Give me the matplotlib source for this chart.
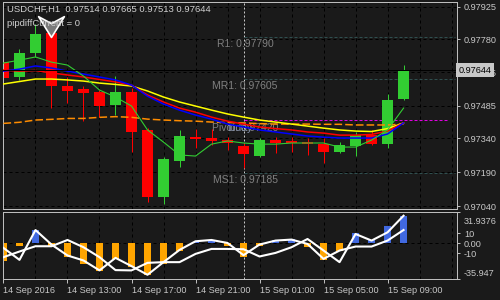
import matplotlib
matplotlib.use('Agg')
import matplotlib.pyplot as plt
from matplotlib.path import Path
from matplotlib.transforms import ScaledTranslation, blended_transform_factory

plt.rcParams['font.family'] = ['Liberation Sans', 'DejaVu Sans']

# ---------------- data ----------------
bars = list(range(26))
opens = [0.97681, 0.97614, 0.97718, 0.97807, 0.97573, 0.97558, 0.97548, 0.97489, 0.97548, 0.97378,
         0.97081, 0.97240, 0.97348, 0.97343, 0.97333, 0.97308, 0.97263, 0.97333, 0.97330, 0.97326,
         0.97315, 0.97281, 0.97308, 0.97355, 0.97314, 0.97514]
highs = [0.97702, 0.97736, 0.97848, 0.97813, 0.97613, 0.97573, 0.97555, 0.97617, 0.97564, 0.97386,
         0.97259, 0.97378, 0.97381, 0.97381, 0.97347, 0.97320, 0.97342, 0.97347, 0.97348, 0.97341,
         0.97341, 0.97326, 0.97370, 0.97378, 0.97537, 0.97665]
lows = [0.97600, 0.97600, 0.97703, 0.97475, 0.97497, 0.97419, 0.97437, 0.97444, 0.97281, 0.97059,
        0.97049, 0.97215, 0.97296, 0.97311, 0.97289, 0.97208, 0.97258, 0.97277, 0.97281, 0.97267,
        0.97230, 0.97274, 0.97263, 0.97311, 0.97296, 0.97513]
closes = [0.97607, 0.97718, 0.97804, 0.97574, 0.97552, 0.97543, 0.97485, 0.97548, 0.97370, 0.97081,
          0.97249, 0.97351, 0.97338, 0.97329, 0.97319, 0.97270, 0.97333, 0.97319, 0.97320, 0.97314,
          0.97281, 0.97311, 0.97355, 0.97314, 0.97511, 0.97644]

ma_blue = [0.97639, 0.97648, 0.97662, 0.97653, 0.97639, 0.97626, 0.97613, 0.97600, 0.97577, 0.97528,
           0.97493, 0.97466, 0.97444, 0.97426, 0.97404, 0.97391, 0.97378, 0.97369, 0.97360, 0.97351,
           0.97346, 0.97342, 0.97342, 0.97342, 0.97360, 0.97409]
ma_red = [0.97644, 0.97639, 0.97642, 0.97631, 0.97622, 0.97613, 0.97602, 0.97591, 0.97577, 0.97533,
          0.97502, 0.97475, 0.97457, 0.97435, 0.97417, 0.97404, 0.97391, 0.97384, 0.97378, 0.97369,
          0.97364, 0.97355, 0.97355, 0.97358, 0.97373, 0.97409]
ma_yellow = [0.97582, 0.97593, 0.97604, 0.97604, 0.97600, 0.97595, 0.97586, 0.97580, 0.97573, 0.97551,
             0.97524, 0.97502, 0.97484, 0.97466, 0.97449, 0.97435, 0.97422, 0.97413, 0.97404, 0.97395,
             0.97386, 0.97378, 0.97373, 0.97371, 0.97384, 0.97409]
ma_orange = [0.97407, 0.97412, 0.97422, 0.97425, 0.97429, 0.97429, 0.97434, 0.97437, 0.97434, 0.97426,
             0.97422, 0.97419, 0.97417, 0.97413, 0.97411, 0.97409, 0.97406, 0.97404, 0.97404, 0.97404,
             0.97403, 0.97403, 0.97400, 0.97400, 0.97400, 0.97404]
ma_green = [0.97675, 0.97688, 0.97702, 0.97679, 0.97666, 0.97617, 0.97555, 0.97524, 0.97484, 0.97378,
            0.97324, 0.97267, 0.97262, 0.97315, 0.97329, 0.97320, 0.97315, 0.97315, 0.97320, 0.97320,
            0.97320, 0.97302, 0.97302, 0.97333, 0.97378, 0.97475]

level_names = ['R1: 0.97790', 'MR1: 0.97605', 'MS1: 0.97185']
level_values = [0.97790, 0.97605, 0.97185]
pivot_value = 0.97420
pivot_label = 'Pivot: 0.97420'
pivot_extra = 'today'
day_start_bar = 15
level_end_bar = 28.2

arrow_bar = [3]
arrow_price = [0.97790]

hist = [-18.3, -3, 13.7, -2.3, -14, -20.7, -28.3, -15.7, -24, -32.3, -20.7, -7.3, 1, 2.7, -2.3,
        -14, -2.3, 3.3, 4.3, -4, -17.3, -7.3, 10, 3.3, 17.7, 27.7]
line1 = [-4.7, -16.7, 13.3, -1.3, -12.3, -17.3, -27.3, -14.7, -23, -31.7, -19, -6.7, 2, 3.3, 0.3,
         -12, -1.3, 2.7, 3.7, -0.7, -15.7, -7.3, -3.3, -3.3, 2.7, 13.3]
line2 = [-14, -8.3, -3, -3, 3.3, -4, -14, -27, -27.3, -19.7, -19, -19, -10.7, -5.7, -5.7,
         -6, -13.3, -9.7, -4, 4.3, -7.3, -19, 9.3, 2.7, 11, 27.7]

price_ticks = [0.97925, 0.97780, 0.97635, 0.97485, 0.97340, 0.97190, 0.97040]
price_labels = ['0.97925', '0.97780', '0.97635', '0.97485', '0.97340', '0.97190', '0.97040']
ind_ticks = [31.9376, 10, 0, -10, -35.947]
ind_labels = ['31.9376', '10', '0.00', '-10', '-35.947']
time_ticks = [0, 4, 8, 12, 16, 20, 24]
time_labels = ['14 Sep 2016', '14 Sep 13:00', '14 Sep 17:00', '14 Sep 21:00',
               '15 Sep 01:00', '15 Sep 05:00', '15 Sep 09:00']
grid_bars = list(range(0, 29, 2))

title = 'USDCHF,H1  0.97514 0.97665 0.97513 0.97644'
subtitle = 'pipdiffCurrent = 0'

# ---------------- style ----------------
BG = '#1a1a1a'
FG = '#c8c8c8'
BORDER = '#bdbdbd'
UP = '#32cd32'
DOWN = '#ff0000'
px = 0.72  # one pixel in points at dpi 100

fig = plt.figure(figsize=(5, 3), dpi=100, facecolor=BG)
ax = fig.add_axes([3 / 500, 1 - 209 / 300, 454 / 500, 207 / 300])
ax2 = fig.add_axes([3 / 500, 1 - 279 / 300, 454 / 500, 67.5 / 300])

xlim = (-0.03, 28.34)
for a in (ax, ax2):
    a.set_facecolor(BG)
    a.set_xlim(*xlim)
    for s in a.spines.values():
        s.set_color(BORDER)
        s.set_linewidth(px)
    for g in grid_bars:
        a.axvline(g, color='black', lw=px, ls=(0, (3, 3)), zorder=0.5)
    a.axvline(day_start_bar, color='#c8c8c8', lw=px, ls=(0, (2, 2)), zorder=0.6)

ax.set_ylim(0.97027, 0.97946)
ax2.set_ylim(-35.947, 31.9376)

# horizontal grid
for p in price_ticks:
    ax.axhline(p, color='black', lw=px, ls=(0, (3, 3)), zorder=0.5)
ax2.axhline(0, color='black', lw=px, ls=(0, (3, 3)), zorder=0.5)

# pivot levels
ax.hlines(level_values, day_start_bar, level_end_bar, colors='#2f4f4f', lw=px,
          linestyles=(0, (3, 2)), zorder=0.7)
ax.hlines([pivot_value], day_start_bar, level_end_bar - 0.5, colors='#e000e0', lw=px,
          linestyles=(0, (3, 2)), zorder=0.7)
for name, val in zip(level_names, level_values):
    ax.annotate(name, (day_start_bar + 0.1, val), xytext=(0, -1.5), textcoords='offset points',
                ha='center', va='top', color='#808080', fontsize=7.5, zorder=1)
ax.annotate(pivot_label, (day_start_bar + 0.1, pivot_value), xytext=(0, -1.5),
            textcoords='offset points', ha='center', va='top', color='#808080',
            fontsize=7.5, zorder=1)
ax.annotate(pivot_extra, (day_start_bar - 0.97, pivot_value), xytext=(0, -1.5),
            textcoords='offset points', ha='left', va='top', color='#8894ad',
            fontsize=7.5, zorder=1.1)

# candles
cols = [UP if c >= o else DOWN for o, c in zip(opens, closes)]
ax.vlines(bars, lows, highs, colors=cols, lw=px, zorder=2)
bottoms = [min(o, c) for o, c in zip(opens, closes)]
heights = [max(abs(c - o), 0.00003) for o, c in zip(opens, closes)]
ax.bar(bars, heights, bottom=bottoms, width=0.69, color=cols, linewidth=0, zorder=2.1)

# moving averages
ax.plot(bars, ma_orange, color='#ff8c00', lw=1.1, ls=(0, (5, 2)), zorder=3)
ax.plot(bars, ma_yellow, color='#ffff00', lw=1.1, zorder=3.1)
ax.plot(bars, ma_red, color='#ff0000', lw=1.1, zorder=3.2)
ax.plot(bars, ma_blue, color='#0000ff', lw=1.1, zorder=3.3)
ax.plot(bars, ma_green, color=UP, lw=0.8, zorder=3.4)

# bid line
ax.axhline(closes[-1], color='black', lw=px, zorder=3.5)

# arrow signal
arrow_path = Path([(0, 0), (-13, 21), (0, 14), (13, 21), (0, 0)],
                  [Path.MOVETO, Path.LINETO, Path.LINETO, Path.LINETO, Path.CLOSEPOLY])
ax.plot(arrow_bar, arrow_price, marker=arrow_path, markersize=30, ls='none',
        markerfacecolor='#7a7a7a', markeredgecolor='white', markeredgewidth=1.2, zorder=5)

# axes ticks main
ax.set_xticks([])
ax.yaxis.tick_right()
ax.set_yticks(price_ticks)
ax.set_yticklabels(price_labels)
ax.tick_params(axis='y', colors=BORDER, labelcolor=FG, labelsize=6.6, length=2, width=px, pad=3)

# current price box
trans = blended_transform_factory(ax.transAxes, ax.transData)
ax.text(1.0035, closes[-1], '%.5f' % closes[-1], transform=trans, ha='left', va='center',
        fontsize=6.6, color='black', clip_on=False, zorder=20,
        bbox=dict(boxstyle='square,pad=0.3', fc='#c8c8c8', ec='none'))

# indicator
hcols = ['#4169e1' if v >= 0 else '#ffa500' for v in hist]
ax2.bar(bars, hist, width=0.46, color=hcols, linewidth=0, zorder=2)
ax2.plot(bars, line1, color='white', lw=1.5, zorder=3)
ax2.plot(bars, line2, color='white', lw=1.5, zorder=3)

ax2.yaxis.tick_right()
ax2.set_yticks(ind_ticks)
ax2.set_yticklabels(ind_labels)
ax2.tick_params(axis='y', colors=BORDER, labelcolor=FG, labelsize=6.6, length=2, width=px, pad=3)
ylabs = ax2.get_yticklabels()
ylabs[0].set_transform(ylabs[0].get_transform() + ScaledTranslation(0, -8.5 / 100, fig.dpi_scale_trans))
ylabs[-1].set_transform(ylabs[-1].get_transform() + ScaledTranslation(0, 6 / 100, fig.dpi_scale_trans))

ax2.set_xticks(time_ticks)
ax2.set_xticklabels(time_labels)
ax2.tick_params(axis='x', colors=BORDER, labelcolor=FG, labelsize=6.6, length=3, width=px, pad=2)
for lbl in ax2.get_xticklabels():
    lbl.set_ha('left')

# header texts
fig.text(7 / 500, 1 - 9 / 300, title, color='#d0d0d0', fontsize=6.8, va='center', ha='left')
fig.text(7 / 500, 1 - 24 / 300, subtitle, color='#d0d0d0', fontsize=6.8, va='center', ha='left')

fig.savefig('out.png', dpi=100, facecolor=BG)
